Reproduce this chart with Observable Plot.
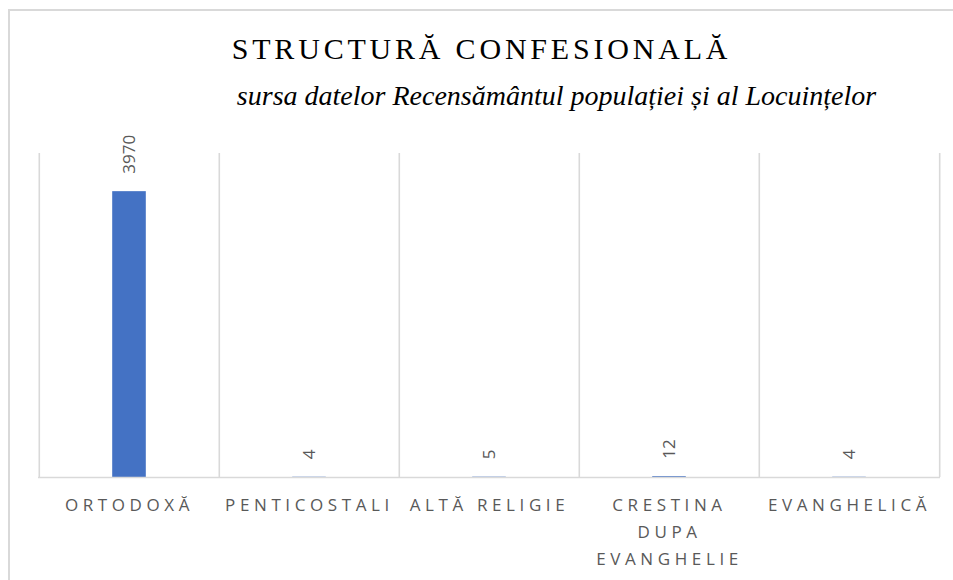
<!DOCTYPE html>
<html>
<head>
<meta charset="utf-8">
<script src="https://cdn.jsdelivr.net/npm/d3@7"></script>
<script src="https://cdn.jsdelivr.net/npm/@observablehq/plot@0.6"></script>
<style>
  html, body { margin: 0; padding: 0; background: #fff; }
  #wrap { position: relative; width: 953px; height: 580px; overflow: hidden; background: #fff; }
  #frame { position: absolute; left: 8px; top: 9px; width: 1200px; height: 1000px; border: 2px solid #d9d9d9; box-sizing: border-box; }
  #title { position: absolute; left: 0; top: 34px; width: 963px; text-align: center; font-family: "Liberation Serif", "DejaVu Serif", serif; font-size: 30px; line-height: 30px; letter-spacing: 3.8px; color: #000; white-space: nowrap; }
  #subtitle { position: absolute; left: 160px; top: 82px; width: 793px; text-align: center; font-family: "Liberation Serif", "DejaVu Serif", serif; font-style: italic; font-size: 28px; line-height: 28px; color: #000; white-space: nowrap; }
  #chart { position: absolute; left: 0; top: 120px; }
</style>
</head>
<body>
<div id="wrap">
  <div id="frame"></div>
  <div id="title">STRUCTURĂ CONFESIONALĂ</div>
  <div id="subtitle">sursa datelor Recensământul populației și al Locuințelor</div>
  <div id="chart"></div>
</div>
<script>
const categories = ["ORTODOXĂ", "PENTICOSTALI", "ALTĂ RELIGIE", "CRESTINA DUPA EVANGHELIE", "EVANGHELICĂ"];
const tickLabels = ["ORTODOXĂ", "PENTICOSTALI", "ALTĂ RELIGIE", "CRESTINA\nDUPA\nEVANGHELIE", "EVANGHELICĂ"];
const values = [3970, 4, 5, 12, 4];
const yMax = 4500;

const data = categories.map((c, i) => ({category: c, value: values[i], label: tickLabels[i]}));

const W = 953, H = 460;
const mL = 38, mR = 13, mT = 33, mB = 103;
const bw = (W - mL - mR) / categories.length;
const barW = 34;
const labelFont = "'Open Sans', 'Liberation Sans', sans-serif";

const chart = Plot.plot({
  width: W,
  height: H,
  marginLeft: mL,
  marginRight: mR,
  marginTop: mT,
  marginBottom: mB,
  style: {fontFamily: labelFont, background: "transparent", overflow: "visible"},
  x: {domain: categories, padding: 0, axis: null},
  y: {domain: [0, yMax], axis: null},
  marks: [
    Plot.ruleX(categories, {x: d => d, y1: 0, y2: yMax, dx: -bw / 2, stroke: "#d9d9d9", strokeWidth: 1.6}),
    Plot.ruleX(categories.slice(-1), {x: d => d, y1: 0, y2: yMax, dx: bw / 2, stroke: "#d9d9d9", strokeWidth: 1.6}),
    Plot.barY(data, {x: "category", y: "value", fill: "#4472C4", insetLeft: (bw - barW) / 2, insetRight: (bw - barW) / 2}),
    Plot.ruleY([0], {stroke: "#d9d9d9", strokeWidth: 1.6}),
    Plot.text(data, {x: "category", y: "value", text: d => String(d.value), rotate: -90, textAnchor: "start", lineAnchor: "middle", dy: -18, fontSize: 17, fill: "#595959"}),
    Plot.axisX({domain: categories, label: null, tickSize: 0, tickPadding: 14, fontSize: 17, lineHeight: 1.59, fill: "#595959", tickFormat: (d) => tickLabels[categories.indexOf(d)], lineAnchor: "top"})
  ]
});

d3.select(chart).selectAll('g[aria-label="x-axis tick label"] text').attr("letter-spacing", "4.6px");
document.getElementById("chart").appendChild(chart);
</script>
</body>
</html>
